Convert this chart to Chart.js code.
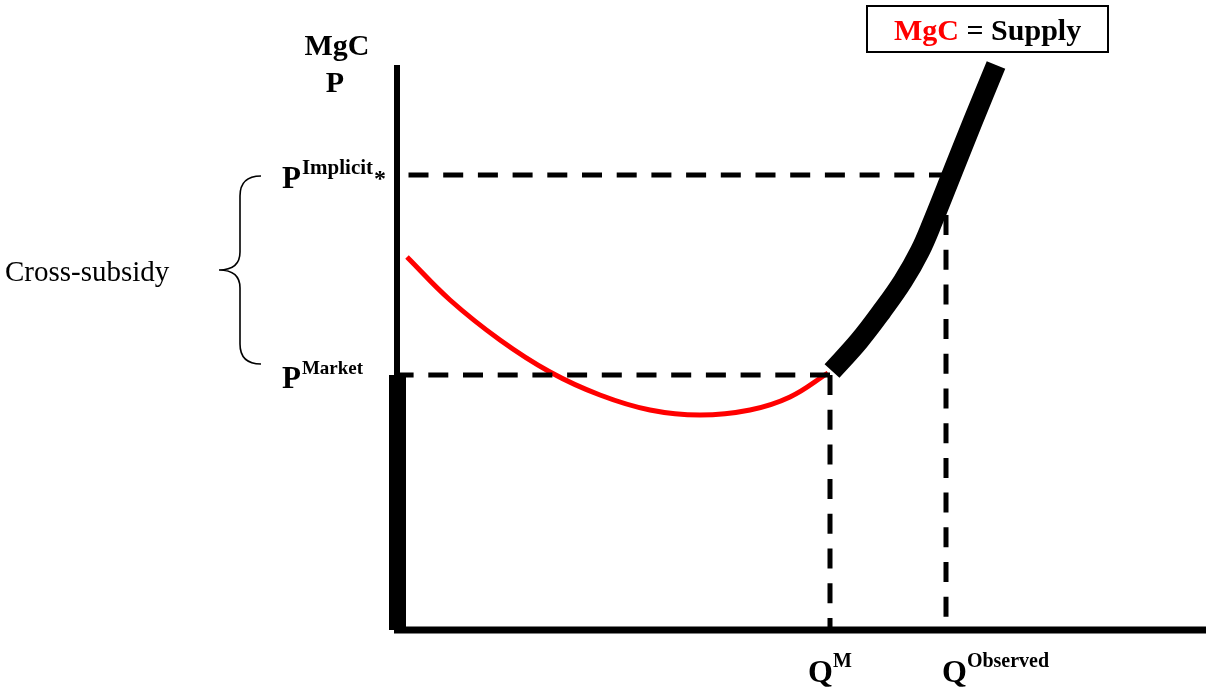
<!DOCTYPE html>
<html>
<head>
<meta charset="utf-8">
<script src="https://cdn.jsdelivr.net/npm/chart.js@4.4.1/dist/chart.umd.min.js"></script>
<style>
  html, body { margin: 0; padding: 0; background: #fff; }
  #wrap { width: 1206px; height: 691px; position: relative; }
</style>
</head>
<body>
<div id="wrap"><canvas id="chart"></canvas></div>
<script>
// Q = quantity, P = price (arbitrary units)
const mgcQ = [0.07, 0.5, 1.0, 1.5, 2.0, 2.5, 3.0, 3.5, 3.9, 4.28];
const mgcP = [3.73, 3.30, 2.90, 2.58, 2.35, 2.20, 2.15, 2.20, 2.33, 2.57];

const supplyQ = [4.32, 4.59, 4.82, 5.03, 5.20, 5.33, 5.53, 5.73, 5.96];
const supplyP = [2.59, 2.89, 3.19, 3.49, 3.79, 4.09, 4.59, 5.09, 5.65];

const qMarket = 4.30, pMarket = 2.55;
const qObserved = 5.46, pImplicit = 4.55, pObservedTop = 4.15, qImplicitEnd = 5.49;
const axisQMax = 8.06, axisPMax = 5.65;

const qTickValues = [qMarket, qObserved];
const qTickLabels = [["Q", "M"], ["Q", "Observed"]];
const pTickValues = [pImplicit, pMarket];
const pTickLabels = [["P", "Implicit", "*"], ["P", "Market"]];

const pts = (xs, ys) => xs.map((x, i) => ({ x, y: ys[i] }));
const dash = { borderColor: "#000", borderWidth: 5, borderDash: [20, 14.7], pointRadius: 0, showLine: true, fill: false, borderCapStyle: "butt" };

const textPlugin = {
  id: "labels",
  afterDraw(chart) {
    const { ctx, scales: { x, y } } = chart;
    ctx.save();
    ctx.fillStyle = "#000";
    ctx.textBaseline = "alphabetic";
    const bold = (s) => `bold ${s}px "Liberation Serif", "Times New Roman", serif`;

    // y-axis title
    ctx.textAlign = "center";
    ctx.font = bold(30);
    ctx.fillText("MgC", 337, 55);
    ctx.fillText("P", 335, 92);

    // price labels
    ctx.textAlign = "left";
    pTickValues.forEach((v, i) => {
      const py = y.getPixelForValue(v) + 13;
      const [main, sup, sub] = pTickLabels[i];
      ctx.font = bold(31);
      ctx.fillText(main, 282, py);
      const w = ctx.measureText(main).width;
      ctx.font = bold(sub ? 21 : 19);
      ctx.fillText(sup, 282 + w + 1, py - 14);
      if (sub) {
        const w2 = ctx.measureText(sup).width;
        ctx.font = bold(24);
        ctx.fillText(sub, 282 + w + w2 + 2, py - 2);
      }
    });

    // quantity labels
    const qOffsets = [-22, -4];
    qTickValues.forEach((v, i) => {
      const px = x.getPixelForValue(v) + qOffsets[i];
      const [main, sup] = qTickLabels[i];
      ctx.font = bold(32);
      ctx.fillText(main, px, 682);
      const w = ctx.measureText(main).width;
      ctx.font = bold(20);
      ctx.fillText(sup, px + w, 667);
    });

    // brace + cross-subsidy
    ctx.strokeStyle = "#000";
    ctx.lineWidth = 1.6;
    ctx.beginPath();
    ctx.moveTo(261, 176);
    ctx.quadraticCurveTo(240, 176, 240, 196);
    ctx.lineTo(240, 252);
    ctx.quadraticCurveTo(240, 270, 219, 270);
    ctx.quadraticCurveTo(240, 270, 240, 288);
    ctx.lineTo(240, 344);
    ctx.quadraticCurveTo(240, 364, 261, 364);
    ctx.stroke();
    ctx.font = '29px "Liberation Serif", "Times New Roman", serif';
    ctx.fillText("Cross-subsidy", 5, 281);

    // legend box
    ctx.lineWidth = 2;
    ctx.strokeRect(867, 6, 241, 46);
    ctx.font = bold(30);
    ctx.fillStyle = "#ff0000";
    ctx.fillText("MgC", 894, 40);
    const mw = ctx.measureText("MgC ").width;
    ctx.fillStyle = "#000";
    ctx.fillText("= Supply", 894 + mw, 40);
    ctx.restore();
  }
};

new Chart(document.getElementById("chart"), {
  type: "scatter",
  data: {
    datasets: [
      // guide lines: horizontals drawn right to left, verticals top to bottom (dash phase)
      { ...dash, data: [{ x: qImplicitEnd, y: pImplicit }, { x: 0, y: pImplicit }] },
      { ...dash, data: [{ x: qMarket, y: pMarket }, { x: 0, y: pMarket }] },
      { ...dash, data: [{ x: qMarket, y: pMarket }, { x: qMarket, y: 0 }] },
      { ...dash, data: [{ x: qObserved, y: pObservedTop }, { x: qObserved, y: 0 }] },
      { data: pts(mgcQ, mgcP), borderColor: "#ff0000", borderWidth: 5, showLine: true, pointRadius: 0, tension: 0.4, borderCapStyle: "butt" },
      { data: pts(supplyQ, supplyP), borderColor: "#000", borderWidth: 20, showLine: true, pointRadius: 0, tension: 0.4, borderCapStyle: "butt" },
      { data: [{ x: -0.03, y: -0.03 }, { x: -0.03, y: axisPMax }], borderColor: "#000", borderWidth: 6, showLine: true, pointRadius: 0, borderCapStyle: "butt" },
      { data: [{ x: -0.025, y: 0 }, { x: -0.025, y: pMarket }], borderColor: "#000", borderWidth: 17, showLine: true, pointRadius: 0, borderCapStyle: "butt" },
      { data: [{ x: -0.06, y: 0 }, { x: axisQMax, y: 0 }], borderColor: "#000", borderWidth: 7, showLine: true, pointRadius: 0, borderCapStyle: "butt" }
    ]
  },
  options: {
    responsive: true,
    maintainAspectRatio: false,
    animation: false,
    layout: { padding: 0 },
    plugins: { legend: { display: false }, tooltip: { enabled: false } },
    scales: {
      x: { type: "linear", min: -4.0, max: 8.06, display: false },
      y: { type: "linear", min: -0.61, max: 6.30, display: false }
    }
  },
  plugins: [textPlugin]
});
</script>
</body>
</html>
